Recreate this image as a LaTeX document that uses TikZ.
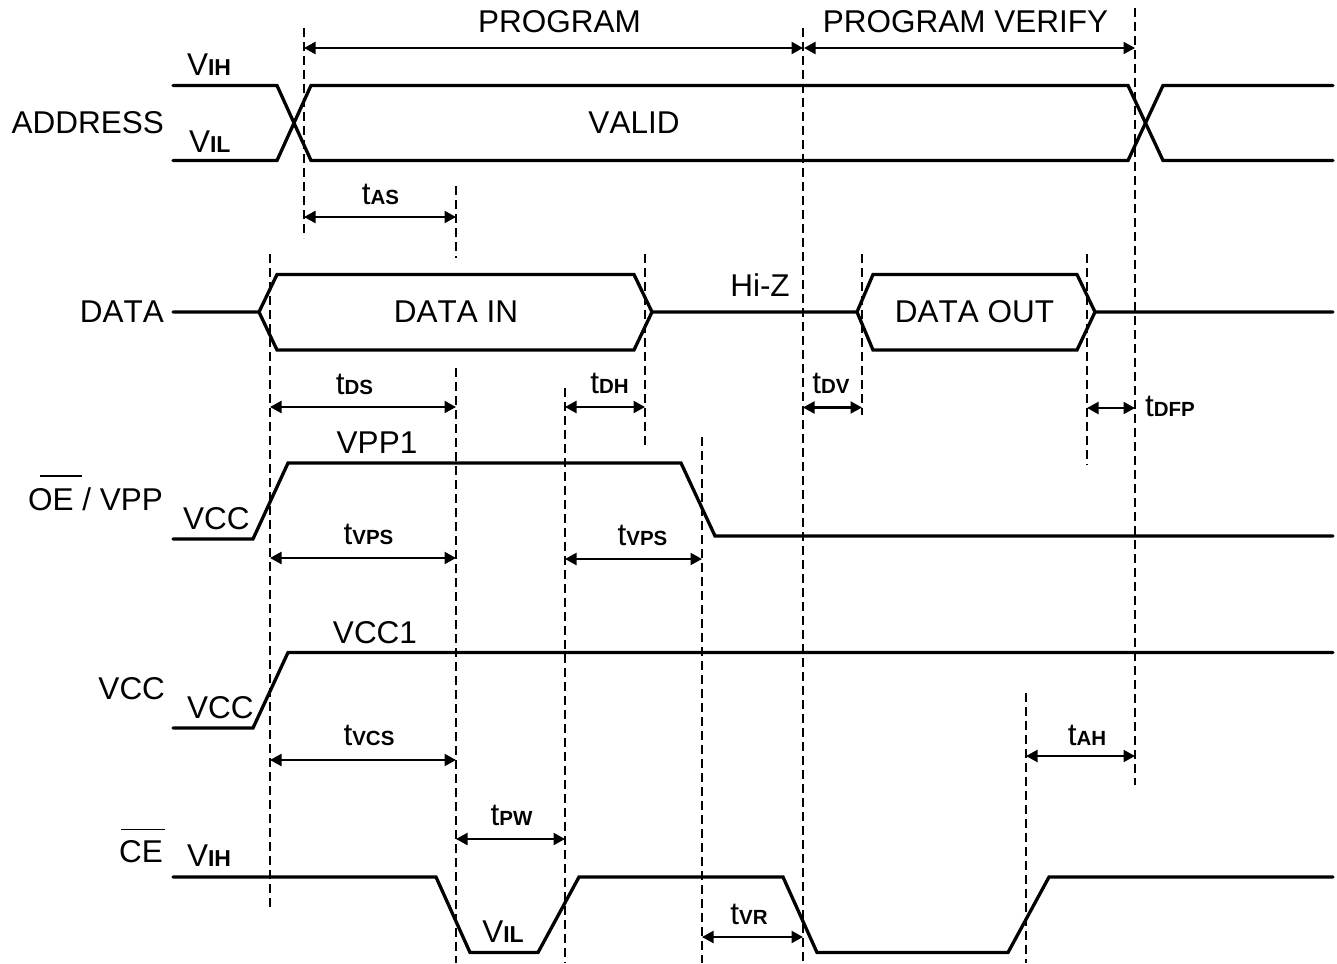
\documentclass[tikz,border=0pt]{standalone}
\usepackage{fontspec}
\setmainfont[Kerning=Off]{Liberation Sans}
\usetikzlibrary{arrows.meta}
\newcommand{\mainsz}{\fontsize{31.5}{36}\selectfont}
\newcommand{\subsz}[1]{{\fontsize{20.5}{24}\selectfont\bfseries #1}}
\newcommand{\subvz}[1]{{\fontsize{23}{24}\selectfont\bfseries #1}}
\tikzset{
  wave/.style={line width=3.3pt,line cap=round,line join=miter,black},
  guide/.style={line width=2.2pt,black,dash pattern=on 9pt off 5pt},
  span/.style={line width=2.2pt,black,{Triangle[length=11.5pt,width=12pt]}-{Triangle[length=11.5pt,width=12pt]}},
  bar/.style={line width=1.5pt,black},
  lbl/.style={inner sep=0pt,outer sep=0pt,anchor=base,font=\mainsz},
  lblw/.style={lbl,anchor=base west},
  lble/.style={lbl,anchor=base east}
}
\begin{document}
\begin{tikzpicture}[x=1pt,y=-1pt]
\useasboundingbox (0,0) rectangle (1337,963);
\fill[white] (0,0) rectangle (1337,963);

% guide lines
\foreach \n/\x/\a/\b in {
  ga/304/28/238, gb/456/186/258, gc/456/368/963, gd/565/388/963,
  ge/270/254/910, gf/645/254/448, gg/702/437/963, gh/803/28/963,
  gi/862/254/415, gj/1087/254/465, gk/1135/8/785, gl/1026/693/963}{
  \coordinate (\n t) at (\x,\a);
  \coordinate (\n b) at (\x,\b);
  \draw[guide] (\n t) -- (\n b);
}

% waveforms
\draw[wave] (173,85.5) -- (277,85.5) -- (311,160.5) -- (1128,160.5) -- (1163,85.5) -- (1333,85.5);
\draw[wave] (173,160.5) -- (277,160.5) -- (311,85.5) -- (1128,85.5) -- (1163,160.5) -- (1333,160.5);
\draw[wave] (173,312) -- (259,312) -- (277,274.5) -- (634,274.5) -- (652,312) -- (857,312) -- (873,274.5) -- (1077,274.5) -- (1095,312) -- (1333,312);
\draw[wave] (259,312) -- (277,350) -- (634,350) -- (652,312);
\draw[wave] (857,312) -- (873,350) -- (1077,350) -- (1095,312);
\draw[wave] (173,539) -- (253,539) -- (288,463) -- (681,463) -- (715,536) -- (1333,536);
\draw[wave] (173,728) -- (253,728) -- (288,652.5) -- (1333,652.5);
\draw[wave] (173,877) -- (436,877) -- (470,952.5) -- (538,952.5) -- (579,877) -- (783,877) -- (817,952.5) -- (1008,952.5) -- (1049,877) -- (1333,877);

% dimension arrows
\foreach \n/\xa/\xb/\y in {
  sprog/304/803/48, sver/804/1135/48, sas/304/456/217, sds/270/456/407,
  sdh/565/645/407, sdv/803/862/407.5, sdfp/1087/1135/408, svps/270/456/558,
  svpt/565/702/559, svcs/270/456/760, sah/1026/1135/756, spw/456/565/839,
  svr/702/803/937}{
  \coordinate (\n a) at (\xa,\y);
  \coordinate (\n b) at (\xb,\y);
  \draw[span] (\n a) -- (\n b);
}

% overbars
\coordinate (oea) at (40,476); \coordinate (oeb) at (82,476);
\coordinate (cea) at (121,829.5); \coordinate (ceb) at (165,829.5);
\draw[bar] (oea) -- (oeb);
\draw[bar] (cea) -- (ceb);

% labels
\node[lblw] (vih1) at (187,76) {V\subvz{IH}};
\node[lblw] (vil1) at (189,152.5) {V\subvz{IL}};
\node[lble] (addr) at (164,133) {ADDRESS};
\node[lbl] (prog) at (559.5,33) {PROGRAM};
\node[lbl] (pver) at (965.5,33) {PROGRAM VERIFY};
\node[lbl] (valid) at (634,133) {VALID};
\node[lbl] (tas) at (380.5,204) {t\subsz{AS}};
\node[lble] (data) at (164,322) {DATA};
\node[lbl] (din) at (456,322) {DATA IN};
\node[lbl] (hiz) at (760,296) {Hi-Z};
\node[lbl] (dout) at (974.5,322) {DATA OUT};
\node[lbl] (tds) at (354.5,394) {t\subsz{DS}};
\node[lbl] (tdh) at (609.5,393.5) {t\subsz{DH}};
\node[lbl] (tdv) at (831,393.5) {t\subsz{DV}};
\node[lblw] (tdfp) at (1145,416.5) {t\subsz{DFP}};
\node[lbl] (vpp) at (377,453.5) {VPP1};
\node[lble] (oe) at (163,510) {OE / VPP};
\node[lblw] (vcca) at (183,529) {VCC};
\node[lbl] (tvps) at (368.5,544) {t\subsz{VPS}};
\node[lbl] (tvpt) at (642.5,545) {t\subsz{VPS}};
\node[lbl] (vcc1) at (375,643) {VCC1};
\node[lble] (vcc) at (165,699) {VCC};
\node[lblw] (vccb) at (187,718) {VCC};
\node[lbl] (tvcs) at (369,745) {t\subsz{VCS}};
\node[lbl] (tah) at (1087,745.5) {t\subsz{AH}};
\node[lbl] (tpw) at (511.5,825.5) {t\subsz{PW}};
\node[lbl] (vil2) at (503,942.5) {V\subvz{IL}};
\node[lbl] (tvr) at (749,924) {t\subsz{VR}};
\node[lble] (ce) at (163,862) {CE};
\node[lblw] (vih2) at (187,866.5) {V\subvz{IH}};
\end{tikzpicture}
\end{document}
